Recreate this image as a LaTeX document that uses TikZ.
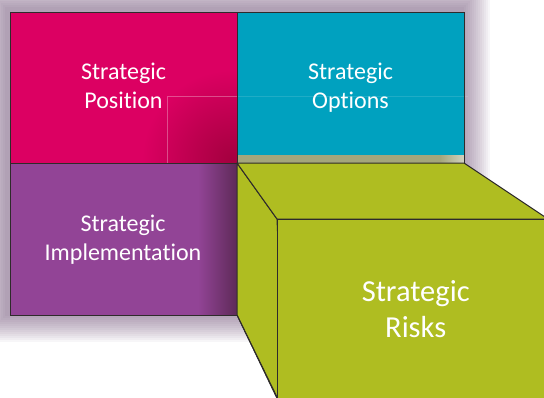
\documentclass[tikz,border=0pt]{standalone}
\usepackage{fontspec}
\setmainfont[Ligatures={NoCommon,NoContextual}]{Carlito}
\definecolor{pinkC}{HTML}{DC0062}
\definecolor{pinkD}{HTML}{A4003F}
\definecolor{cyanC}{HTML}{00A1BF}
\definecolor{purpC}{HTML}{924496}
\definecolor{purpD}{HTML}{5E2A58}
\definecolor{greenC}{HTML}{AFBD21}
\definecolor{edgeC}{HTML}{2E2B2B}
\definecolor{glowC}{HTML}{6A4A72}
\definecolor{khakiC}{HTML}{A4A67C}
\definecolor{khakiL}{HTML}{D2D2C0}
\tikzset{
  panel/.style={draw=edgeC, line width=0.9pt},
  cubeface/.style={fill=greenC, draw=edgeC, line width=1pt, line join=round},
  label/.style={text=white, align=center, anchor=base, font=\fontsize{24}{29}\selectfont},
  biglabel/.style={text=white, align=center, anchor=base, font=\fontsize{30.5}{36}\selectfont},
}
\begin{document}
\begin{tikzpicture}[x=1pt,y=-1pt]
\useasboundingbox (0,0) rectangle (544,397);
\clip (0,0) rectangle (544,397);
% glow / shadow
\foreach \i in {1,...,14} {
  \fill[glowC, opacity=0.05] (7-2*\i,9-2*\i) rectangle (462+2*\i,314+2*\i);
}
% panels
\fill[pinkC] (10,12) rectangle (237,163);
\begin{scope}
  \clip (10,12) rectangle (237,163);
  \shade[inner color=pinkD, outer color=pinkC] (232,160) circle (90);
\end{scope}
\fill[cyanC] (237,12) rectangle (464,163);
\fill[khakiC] (237,155) rectangle (464,163);
\shade[left color=khakiC, right color=khakiL] (440,155) rectangle (464,163);
\fill[purpC] (10,163) rectangle (237,315);
\shade[left color=purpC, right color=purpD] (198,163) rectangle (237,315);
% faint guide lines
\draw[white, opacity=0.3, line width=0.5pt] (167,163) -- (167,96) -- (237,96);
\draw[white, opacity=0.12, line width=0.5pt] (237,96) -- (468,96);
% outlines
\draw[panel] (10,12) rectangle (464,163);
\draw[panel] (10,163) rectangle (237,315);
\draw[panel] (237,12) -- (237,163);
% cube
\draw[cubeface] (237,163) -- (277,219) -- (285,415) -- (237,315) -- cycle;
\draw[cubeface] (237,163) -- (464,163) -- (548,219) -- (277,219) -- cycle;
\draw[cubeface] (277,219) rectangle (560,415);
\draw[edgeC, line width=1pt] (237,315) -- (277,397);
% labels
\node[label] (pos) at (123.5,108) {Strategic\\Position};
\node[label] (opt) at (350.5,108) {Strategic\\Options};
\node[label] (imp) at (123,260) {Strategic\\Implementation};
\node[biglabel] (risk) at (415.7,337) {Strategic\\Risks};
\end{tikzpicture}
\end{document}
